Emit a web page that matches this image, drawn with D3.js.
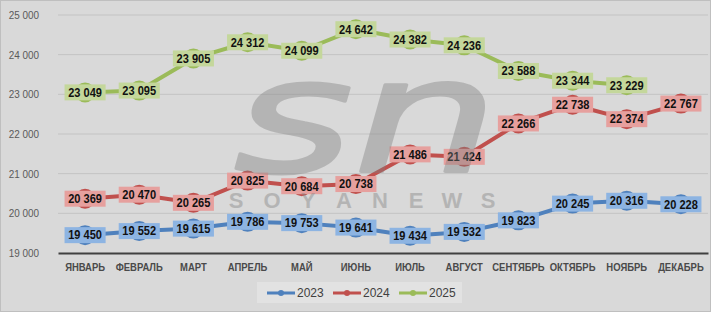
<!DOCTYPE html>
<html>
<head>
<meta charset="utf-8">
<script src="https://cdn.jsdelivr.net/npm/d3@7"></script>
<style>
  body { margin: 0; background: #fff; }
  svg text { font-family: "Liberation Sans", Arial, sans-serif; }
</style>
</head>
<body>
<div id="chart"></div>
<script>
// data
const months = ["ЯНВАРЬ", "ФЕВРАЛЬ", "МАРТ", "АПРЕЛЬ", "МАЙ", "ИЮНЬ", "ИЮЛЬ", "АВГУСТ", "СЕНТЯБРЬ", "ОКТЯБРЬ", "НОЯБРЬ", "ДЕКАБРЬ"];
const values2023 = [19450, 19552, 19615, 19786, 19753, 19641, 19434, 19532, 19823, 20245, 20316, 20228];
const values2024 = [20369, 20470, 20265, 20825, 20684, 20738, 21486, 21424, 22266, 22738, 22374, 22767];
const values2025 = [23049, 23095, 23905, 24312, 24099, 24642, 24382, 24236, 23588, 23344, 23229];
const yTicks = [19000, 20000, 21000, 22000, 23000, 24000, 25000];

const series = [
  { name: "2023", values: values2023, line: "#4f81bd", label: "#8db4e2" },
  { name: "2024", values: values2024, line: "#c0504d", label: "#e6a09e" },
  { name: "2025", values: values2025, line: "#9bbb59", label: "#c4d79b" },
];

const W = 712, H = 314;
const margin = { top: 15, right: 3, bottom: 61, left: 58 };

const ru = d3.formatLocale({ decimal: ",", thousands: " ", grouping: [3], currency: ["", ""] });
const fmt = ru.format(",d");

// squeeze text horizontally (the original uses a narrow font)
function condense(sel, k) {
  sel.each(function () {
    const len = this.getComputedTextLength();
    d3.select(this).attr("textLength", len * k).attr("lengthAdjust", "spacingAndGlyphs");
  });
}

const svg = d3.select("#chart").append("svg").attr("width", W).attr("height", H);

// chart background + border
svg.append("rect")
  .attr("x", 0.5).attr("y", 0.5).attr("width", 710).attr("height", 311)
  .attr("fill", "#d9d9d9").attr("stroke", "#bfbfbf");

const x = d3.scaleBand().domain(months).range([margin.left, W - margin.right - 1]);
const y = d3.scaleLinear().domain([19000, 25000]).range([H - margin.bottom, margin.top]);
const cx = (i) => x(months[i]) + x.bandwidth() / 2;

// gridlines
svg.append("g")
  .selectAll("line")
  .data(yTicks.slice(1))
  .join("line")
  .attr("x1", x.range()[0]).attr("x2", x.range()[1])
  .attr("y1", (d) => y(d)).attr("y2", (d) => y(d))
  .attr("stroke", "#c3c3c3").attr("stroke-width", 1);

// y axis labels
const yAxis = d3.axisLeft(y).tickValues(yTicks).tickFormat(fmt).tickSize(0).tickPadding(0);
const yG = svg.append("g").attr("transform", `translate(39,0)`).call(yAxis);
yG.select(".domain").remove();
yG.selectAll("text").attr("fill", "#595959").style("font-size", "11px").call(condense, 0.9);

// x axis
const xAxis = d3.axisBottom(x).tickSize(0).tickPadding(10);
const xG = svg.append("g").attr("transform", `translate(0,${y(19000)})`).call(xAxis);
xG.select(".domain").attr("stroke", "#404040").attr("stroke-width", 2);
xG.selectAll("text").attr("fill", "#4a4a4a").style("font-size", "11px")
  .style("font-weight", "bold").call(condense, 0.86);

// lines + markers
const line = d3.line().x((d, i) => cx(i)).y((d) => y(d));
series.forEach((s) => {
  const g = svg.append("g");
  g.append("path").datum(s.values)
    .attr("d", line).attr("fill", "none")
    .attr("stroke", s.line).attr("stroke-width", 4).attr("stroke-linejoin", "round");
  g.selectAll("circle").data(s.values).join("circle")
    .attr("cx", (d, i) => cx(i)).attr("cy", (d) => y(d)).attr("r", 10)
    .attr("fill", s.line);
});

// data labels
series.forEach((s) => {
  const g = svg.append("g");
  const lab = g.selectAll("g").data(s.values).join("g")
    .attr("transform", (d, i) => `translate(${cx(i)},${y(d)})`);
  lab.append("rect").attr("fill", s.label);
  const texts = lab.append("text")
    .attr("text-anchor", "middle").attr("dy", "0.36em")
    .style("font-size", "12px").style("font-weight", "bold").attr("fill", "#111")
    .text((d) => fmt(d));
  texts.call(condense, 0.92);
  texts.each(function () {
    const w = this.getComputedTextLength() * 0.92;
    d3.select(this.previousSibling)
      .attr("x", -w / 2 - 5).attr("y", -8)
      .attr("width", w + 10).attr("height", 16);
  });
});

// watermark
const wm = svg.append("g").attr("fill", "#7f7f7f").attr("stroke", "#7f7f7f")
  .attr("opacity", 0.4).style("pointer-events", "none");
wm.append("text")
  .attr("transform", "translate(234,172) scale(1.45,1)")
  .style("font-family", "'DejaVu Sans', sans-serif").style("font-style", "italic")
  .style("font-size", "158px").attr("stroke-width", 3).attr("stroke-linejoin", "round")
  .text("sn");
const wmLetters = "SOYANEWS".split("");
const wx = d3.scalePoint().domain(d3.range(wmLetters.length)).range([236, 488]);
wm.selectAll("text.wl").data(wmLetters).join("text").attr("class", "wl")
  .attr("x", (d, i) => wx(i)).attr("y", 208).attr("text-anchor", "middle")
  .attr("stroke", "none")
  .style("font-size", "22px").style("font-weight", "bold")
  .text((d) => d);

// legend
const legend = svg.append("g").attr("transform", "translate(257,282)");
legend.append("rect").attr("width", 205).attr("height", 21).attr("fill", "#e2e2e2");
series.forEach((s, i) => {
  const lg = legend.append("g").attr("transform", `translate(${10 + i * 66},11)`);
  lg.append("line").attr("x1", 0).attr("x2", 28).attr("stroke", s.line).attr("stroke-width", 3);
  lg.append("circle").attr("cx", 14).attr("r", 3).attr("fill", s.line);
  lg.append("text").attr("x", 30).attr("dy", "0.36em")
    .style("font-size", "12px").attr("fill", "#404040").text(s.name);
});
</script>
</body>
</html>
